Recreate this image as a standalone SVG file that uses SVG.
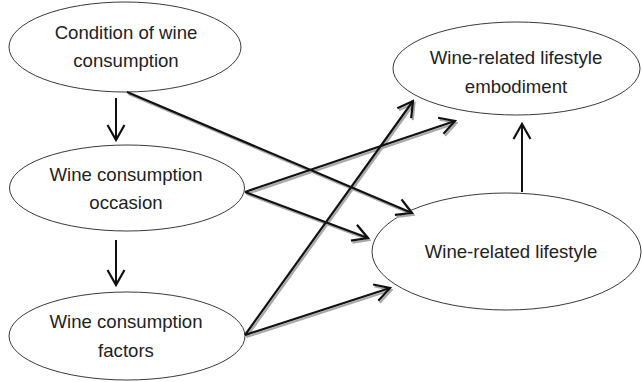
<svg xmlns="http://www.w3.org/2000/svg" width="642" height="382" viewBox="0 0 642 382">
<style>
.node ellipse{fill:#fff;stroke:#222;stroke-width:0.9}
.node text{font-family:"Liberation Sans",Arial,sans-serif;font-size:18.6px;fill:#222;text-anchor:middle}
.c{fill:none;stroke:#111;stroke-width:2.2;marker-end:url(#ah)}
.s{fill:none;stroke:#a8a8a8;stroke-width:2.2;marker-end:url(#ahs)}
.v{fill:none;stroke:#111;stroke-width:2;marker-end:url(#ah)}
</style>
<defs>
<marker id="ah" viewBox="-17 -10 19 20" refX="0" refY="0" markerWidth="19" markerHeight="20" markerUnits="userSpaceOnUse" orient="auto">
<path d="M-15,-8.5 L0,0 L-15,8.5" fill="none" stroke="#111" stroke-width="2.2"/>
</marker>
<marker id="ahs" viewBox="-17 -10 19 20" refX="0" refY="0" markerWidth="19" markerHeight="20" markerUnits="userSpaceOnUse" orient="auto">
<path d="M-15,-8.5 L0,0 L-15,8.5" fill="none" stroke="#a8a8a8" stroke-width="2.2"/>
</marker>
</defs>
<rect width="642" height="382" fill="#fff"/>
<g id="n1" class="node"><ellipse cx="125" cy="47" rx="116" ry="45"/><text x="126" y="39">Condition of wine</text><text x="126" y="67">consumption</text></g>
<g id="n2" class="node"><ellipse cx="127" cy="188" rx="117.5" ry="43"/><text x="126" y="181">Wine consumption</text><text x="126" y="209">occasion</text></g>
<g id="n3" class="node"><ellipse cx="127" cy="336" rx="118" ry="44"/><text x="126" y="328">Wine consumption</text><text x="126" y="357">factors</text></g>
<g id="n4" class="node"><ellipse cx="516.5" cy="68.5" rx="123.5" ry="46.5"/><text x="516" y="64">Wine-related lifestyle</text><text x="516" y="93">embodiment</text></g>
<g id="n5" class="node"><ellipse cx="506.5" cy="251.5" rx="134.5" ry="58.5"/><text x="511" y="258">Wine-related lifestyle</text></g>
<g id="connectors">
<g transform="translate(1.5,2)">
<path class="s" d="M127,92 L412,213"/>
<path class="s" d="M245,192 L455,121"/>
<path class="s" d="M245,192 L368,238"/>
<path class="s" d="M245,335 L413,101"/>
<path class="s" d="M245,335 L390,288"/>
</g>
<path class="c" d="M127,92 L412,213"/>
<path class="c" d="M245,192 L455,121"/>
<path class="c" d="M245,192 L368,238"/>
<path class="c" d="M245,335 L413,101"/>
<path class="c" d="M245,335 L390,288"/>
<path class="v" d="M116,98 L116,140"/>
<path class="v" d="M116,240 L116,285"/>
<path class="v" d="M522,192 L522,124"/>
</g>
</svg>
